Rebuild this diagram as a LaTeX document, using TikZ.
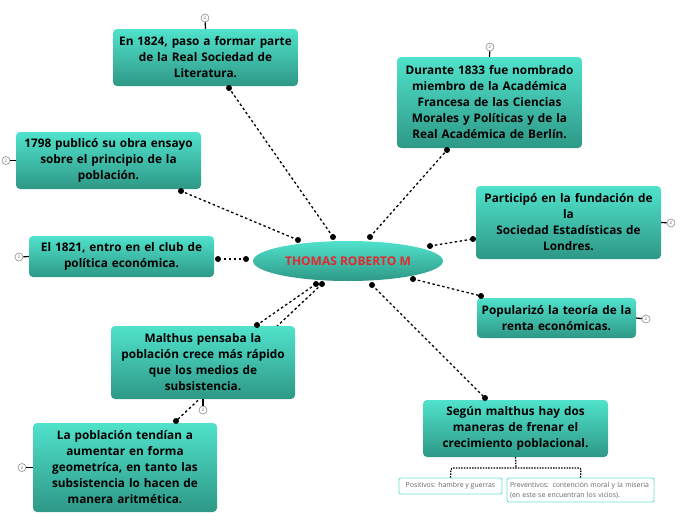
\documentclass[tikz,border=0pt]{standalone}
\usepackage{fontspec}
\setmainfont{Open Sans}
\usetikzlibrary{shapes.geometric}
\definecolor{tealtop}{RGB}{80,226,204}
\definecolor{tealbot}{RGB}{46,152,134}
\definecolor{subedge}{RGB}{110,225,210}
\definecolor{centre}{RGB}{226,40,48}
\tikzset{
  topic/.style={rounded corners=4pt, top color=tealtop, bottom color=tealbot, draw=none,
    align=center, inner sep=2pt, font=\fontsize{11.8}{16}\selectfont\bfseries, text=black},
  central/.style={ellipse, top color=tealtop, bottom color=tealbot, draw=none,
    minimum width=190pt, minimum height=40pt, font=\fontsize{12}{14}\selectfont\bfseries, text=centre},
  sub/.style={rounded corners=2pt, draw=subedge, line width=0.9pt, fill=white, align=left,
    inner sep=3pt, font=\fontsize{6.9}{10}\selectfont, text=black!60},
  link/.style={draw=black, line width=1.3pt, dash pattern=on 2.5pt off 2.5pt},
  brk/.style={draw=black, line width=1.3pt, dash pattern=on 1.5pt off 1.2pt},
  dot/.style={circle, fill=black, inner sep=0pt, minimum size=6pt},
  fold/.style={circle, draw=black!45, fill=white, line width=0.6pt, inner sep=0pt, minimum size=8pt,
    font=\fontsize{4.5}{5}\selectfont, text=black!60},
  stub/.style={draw=black, line width=1.2pt}
}
\begin{document}
\begin{tikzpicture}[x=1pt,y=-1pt]
\useasboundingbox (0,0) rectangle (696,520);

% connectors (drawn first, behind boxes)
\coordinate (c1) at (333,237);
\coordinate (c2) at (370,237);
\coordinate (c3) at (298,240);
\coordinate (c4) at (246,259);
\coordinate (c6) at (430,246);
\coordinate (c7) at (413,279);
\coordinate (c8) at (316,284);
\coordinate (c9) at (322,284);
\coordinate (c10) at (372,285);

\coordinate (e1) at (229,88);
\coordinate (e2) at (447,150);
\coordinate (e3) at (181,191);
\coordinate (e4) at (218,259);
\coordinate (e6) at (473,239);
\coordinate (e7) at (481,296);
\coordinate (e8) at (257,325);
\coordinate (e9) at (176,421);
\coordinate (e10) at (485,398);

\draw[link] (c1) -- (e1);
\draw[link] (c2) -- (e2);
\draw[link] (c3) -- (e3);
\draw[link] (c4) -- (e4);
\draw[link] (c6) -- (e6);
\draw[link] (c7) -- (e7);
\draw[link] (c8) -- (e8);
\draw[link] (c9) -- (e9);
\draw[link] (c10) -- (e10);

% central node
\node[central] (root) at (348,261) {THOMAS ROBERTO M};

% topic boxes
\node[topic, minimum width=185pt, minimum height=57pt, text width=181pt] (n1) at (205.5,57.5)
  {En 1824, paso a formar parte\\de la Real Sociedad de\\Literatura.};
\node[topic, minimum width=185pt, minimum height=91pt, text width=181pt] (n2) at (489.5,102.5)
  {Durante 1833 fue nombrado\\miembro de la Académica\\Francesa de las Ciencias\\Morales y Políticas y de la\\Real Académica de Berlín.};
\node[topic, minimum width=185pt, minimum height=57pt, text width=181pt] (n3) at (108.5,160.5)
  {1798 publicó su obra ensayo\\sobre el principio de la\\población.};
\node[topic, minimum width=185pt, minimum height=41pt, text width=181pt] (n4) at (121.5,256.5)
  {El 1821, entro en el club de\\política económica.};
\node[topic, minimum width=185pt, minimum height=73pt, text width=181pt] (n6) at (568.5,222.5)
  {Participó en la fundación de\\la\\Sociedad Estadísticas de\\Londres.};
\node[topic, minimum width=159pt, minimum height=40pt, text width=155pt] (n7) at (556.5,318)
  {Popularizó la teoría de la\\renta económicas.};
\node[topic, minimum width=184pt, minimum height=73pt, text width=180pt] (n8) at (203,362.5)
  {Malthus pensaba la\\población crece más rápido\\que los medios de\\subsistencia.};
\node[topic, minimum width=184pt, minimum height=89pt, text width=180pt] (n9) at (125,467.5)
  {La población tendían a\\aumentar en forma\\geometríca, en tanto las\\subsistencia lo hacen de\\manera aritmética.};
\node[topic, minimum width=185pt, minimum height=57pt, text width=181pt] (n10) at (515.5,428.5)
  {Según malthus hay dos\\maneras de frenar el\\crecimiento poblacional.};

% sub boxes
\node[sub, minimum width=103pt, minimum height=16pt] (s1) at (450.5,486) {Positivos: hambre y guerras};
\node[sub, text width=141pt, minimum height=24pt] (s2) at (580.5,490)
  {Preventivos: contención moral y la miseria\\(en este se encuentran los vicios).};

\coordinate (b0) at (n10.south);
\coordinate (b1) at (516,468);
\coordinate (bl) at (451,468);
\coordinate (br) at (581,468);
\draw[brk] (b0) -- (b1);
\draw[brk, rounded corners=2pt] (s1.north) -- (bl) -- (br) -- (s2.north);

% dots
\foreach \p in {c1,c2,c3,c4,c6,c7,c8,c9,c10,e1,e2,e3,e4,e6,e7,e8,e9,e10}
  \node[dot] at (\p) {};

% fold markers
\node[fold] (f1) at (205,18) {2};
\draw[stub] (f1) -- (n1.north);
\node[fold] (f2) at (490,47) {2};
\draw[stub] (f2) -- (n2.north);
\node[fold] (f3) at (6,160.5) {2};
\draw[stub] (f3) -- (n3.west);
\node[fold] (f4) at (19,257) {2};
\draw[stub] (f4) -- (n4.west);
\node[fold] (f6) at (671,223) {2};
\draw[stub] (f6) -- (n6.east);
\node[fold] (f7) at (646,319) {2};
\draw[stub] (f7) -- (n7.east);
\node[fold] (f8) at (203,410) {2};
\draw[stub] (f8) -- (n8.south);
\node[fold] (f9) at (22,467.5) {2};
\draw[stub] (f9) -- (n9.west);
\end{tikzpicture}
\end{document}
